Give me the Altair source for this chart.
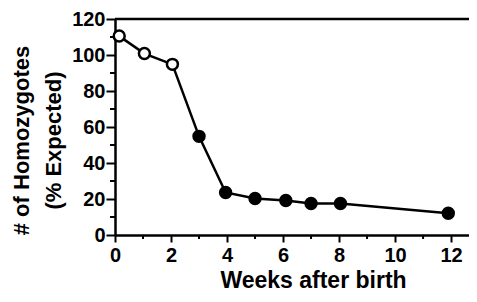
import altair as alt
import pandas as pd

weeks = [0.15, 1.05, 2.05, 3.0, 3.95, 5.0, 6.1, 7.0, 8.05, 11.9]
pct_expected = [110.5, 100.8, 94.8, 54.8, 23.6, 20.3, 19.2, 17.5, 17.5, 12.1]
marker = ["open", "open", "open", "filled", "filled", "filled", "filled", "filled", "filled", "filled"]

x_major = [0, 2, 4, 6, 8, 10, 12]
x_minor = [1, 3, 5, 7, 9, 11]
y_major = [0, 20, 40, 60, 80, 100, 120]
y_minor = [10, 30, 50, 70, 90, 110]

W, H = 354, 216
FONT = "Liberation Sans"

df = pd.DataFrame({"week": weeks, "pct": pct_expected, "marker": marker})
xmin_df = pd.DataFrame({"week": x_minor})
ymin_df = pd.DataFrame({"pct": y_minor})
top_df = pd.DataFrame({"pct": [120]})

xscale = alt.Scale(domain=[0, 12.64], nice=False, zero=False)
yscale = alt.Scale(domain=[0, 120], nice=False)

xaxis = alt.Axis(
    values=x_major, grid=False, tickSize=7, tickWidth=2, tickColor="black",
    domainColor="black", domainWidth=2.5, labelFont=FONT, labelFontWeight="bold",
    labelFontSize=20, labelColor="black", labelPadding=3, labelFlush=False,
    title="Weeks after birth", titleFont=FONT, titleFontWeight="bold",
    titleFontSize=23, titleColor="black", titleX=198, titleY=52,
    titleAlign="center", titleBaseline="alphabetic",
)
yaxis = alt.Axis(
    values=y_major, grid=False, tickSize=9, tickWidth=2, tickColor="black",
    domainColor="black", domainWidth=2.5, labelFont=FONT, labelFontWeight="bold",
    labelFontSize=20, labelColor="black", labelPadding=1, labelFlush=False,
    title=["# of Homozygotes", "(% Expected)"], titleFont=FONT,
    titleFontWeight="bold", titleFontSize=22, titleColor="black",
    titleAngle=270, titleAlign="center", titleBaseline="top",
    titleX=-104, titleY=121, titleLineHeight=32,
)

X = alt.X("week:Q", scale=xscale, axis=xaxis)
Y = alt.Y("pct:Q", scale=yscale, axis=yaxis)

line = alt.Chart(df).mark_line(color="black", strokeWidth=2.5).encode(x=X, y=Y)

points = alt.Chart(df).mark_point(filled=True, size=120, stroke="black", strokeWidth=2.5, opacity=1).encode(
    x=X,
    y=Y,
    fill=alt.Fill("marker:N", scale=alt.Scale(domain=["open", "filled"], range=["white", "black"]), legend=None),
)

xminor = alt.Chart(xmin_df).mark_rule(color="black", strokeWidth=2).encode(
    x=X,
    y=alt.value(H),
    y2=alt.value(H + 4),
)

yminor = alt.Chart(ymin_df).mark_rule(color="black", strokeWidth=2).encode(
    y=Y,
    x=alt.value(0),
    x2=alt.value(-5),
)

topline = alt.Chart(top_df).mark_rule(color="black", strokeWidth=2.5).encode(
    y=Y,
    x=alt.value(0),
    x2=alt.value(W),
)

chart = alt.layer(topline, xminor, yminor, line, points).properties(
    width=W, height=H,
    autosize=alt.AutoSizeParams(type="none"),
    padding={"left": 107, "top": 11, "right": 0, "bottom": 59},
    background="white",
).configure_view(stroke=None)

chart.save("out.html", embed_options={"renderer": "svg", "actions": False})
